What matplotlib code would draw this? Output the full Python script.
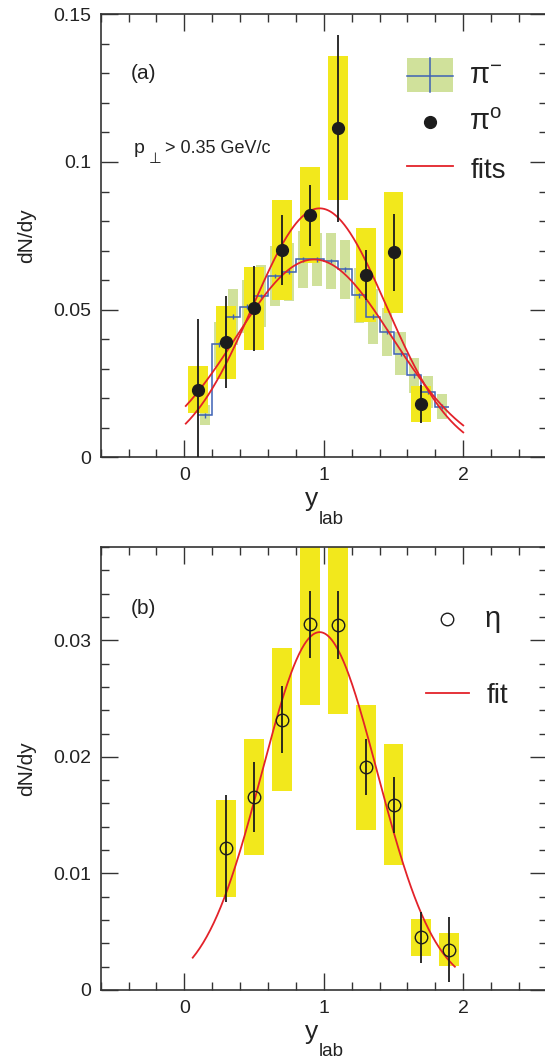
import numpy as np
import matplotlib
matplotlib.use("Agg")
import matplotlib.pyplot as plt
from matplotlib.ticker import MultipleLocator, FixedLocator, FixedFormatter
from matplotlib.patches import Rectangle

plt.rcParams["font.family"] = ["Liberation Sans", "DejaVu Sans"]

# ---- panel (a): pi- histogram ----
pim_edges = np.round(np.arange(0.1, 1.91, 0.1), 2)
pim_vals = [0.0142, 0.0382, 0.0476, 0.0510, 0.0546, 0.0614, 0.0628, 0.0670, 0.0670,
            0.0665, 0.0637, 0.0549, 0.0476, 0.0425, 0.0351, 0.0277, 0.0221, 0.0172]
pim_stat = [0.0008] * 18
pim_sys = [0.0034, 0.0075, 0.0095, 0.0090, 0.0105, 0.0103, 0.0098, 0.0096, 0.0089,
           0.0094, 0.0100, 0.0093, 0.0094, 0.0082, 0.0074, 0.0058, 0.0054, 0.0041]

# ---- panel (a): pi0 points ----
pi0_x = [0.1, 0.3, 0.5, 0.7, 0.9, 1.1, 1.3, 1.5, 1.7]
pi0_y = [0.0229, 0.0390, 0.0504, 0.0702, 0.0820, 0.1114, 0.0617, 0.0694, 0.0181]
pi0_stat = [0.0240, 0.0155, 0.0145, 0.0120, 0.0103, 0.0316, 0.0085, 0.0130, 0.0064]
pi0_sys = [0.0080, 0.0124, 0.0142, 0.0168, 0.0163, 0.0244, 0.0160, 0.0205, 0.0060]

# gaussian fit parameters (amplitude, mean, sigma, x range)
fit_pi0 = (0.0843, 0.97, 0.48, 0.01, 2.0)
fit_pim = (0.0670, 0.93, 0.56, 0.01, 2.0)

# ---- panel (b): eta ----
eta_x = [0.3, 0.5, 0.7, 0.9, 1.1, 1.3, 1.5, 1.7, 1.9]
eta_y = [0.01214, 0.01657, 0.02320, 0.03137, 0.03129, 0.01909, 0.01591, 0.00451, 0.00347]
eta_stat = [0.0046, 0.0030, 0.0029, 0.0029, 0.0029, 0.0024, 0.0024, 0.0022, 0.0028]
eta_sys = [0.0042, 0.0050, 0.0061, 0.0069, 0.0076, 0.0054, 0.0052, 0.0016, 0.0014]
fit_eta = (0.0307, 0.97, 0.415, 0.06, 1.94)

YELLOW = "#f2e81c"
GREEN = "#d0e19b"
BLUE = "#3d62b5"
RED = "#e3222a"
INK = "#1c1c1c"
AXC = "#333333"
TXT = "#222222"
BOXW = 0.143


def gauss_curve(ax, p, **kw):
    a, mu, s, x0, x1 = p
    xx = np.linspace(x0, x1, 300)
    ax.plot(xx, a * np.exp(-0.5 * ((xx - mu) / s) ** 2), **kw)


def style_axes(ax, ymax, ymajor, yminor, ylabels):
    ax.set_xlim(-0.6, 2.6)
    ax.set_ylim(0, ymax)
    ax.xaxis.set_major_locator(FixedLocator([0, 1, 2]))
    ax.xaxis.set_major_formatter(FixedFormatter(["0", "1", "2"]))
    ax.xaxis.set_minor_locator(MultipleLocator(0.2))
    ax.yaxis.set_major_locator(FixedLocator(ymajor))
    ax.yaxis.set_major_formatter(FixedFormatter(ylabels))
    ax.yaxis.set_minor_locator(MultipleLocator(yminor))
    ax.tick_params(which="both", direction="in", top=True, right=True,
                   color=AXC, width=1.0, labelsize=14, labelcolor=TXT)
    ax.tick_params(which="major", length=12, pad=7)
    ax.tick_params(which="minor", length=6)
    for sp in ax.spines.values():
        sp.set_color(AXC)
        sp.set_linewidth(1.2)
    ax.set_ylabel("dN/dy", fontsize=15, color=TXT, labelpad=12)


def xlabel_ylab(ax):
    # "y" with a lowered "lab" subscript, centred under the axis
    ax.text(0.487, -0.110, "y", transform=ax.transAxes, fontsize=19, color=TXT,
            ha="right", va="baseline")
    ax.text(0.489, -0.150, "lab", transform=ax.transAxes, fontsize=13.5, color=TXT,
            ha="left", va="baseline")


fig = plt.figure(figsize=(5.45, 10.62), dpi=100)
ax1 = fig.add_axes([0.1848, 0.5694, 0.8187, 0.4171])
ax2 = fig.add_axes([0.1848, 0.0678, 0.8187, 0.4171])

# panel (a)
centers = (pim_edges[:-1] + pim_edges[1:]) / 2
for xc, v, s in zip(centers, pim_vals, pim_sys):
    ax1.add_patch(Rectangle((xc - 0.036, v - s), 0.072, 2 * s, color=GREEN, lw=0, zorder=1))
for xc, v, s in zip(pi0_x, pi0_y, pi0_sys):
    ax1.add_patch(Rectangle((xc - BOXW / 2, v - s), BOXW, 2 * s, color=YELLOW, lw=0, zorder=2))
ax1.stairs(pim_vals, pim_edges, baseline=None, color=BLUE, lw=1.1, zorder=3)
ax1.errorbar(centers, pim_vals, yerr=pim_stat, fmt="none", ecolor=BLUE, elinewidth=1.0, zorder=3)
gauss_curve(ax1, fit_pi0, color=RED, lw=1.3, zorder=4)
gauss_curve(ax1, fit_pim, color=RED, lw=1.3, zorder=4)
ax1.errorbar(pi0_x, pi0_y, yerr=pi0_stat, fmt="o", color=INK, ms=8.5, elinewidth=1.3,
             capsize=0, zorder=5)
style_axes(ax1, 0.15, [0, 0.05, 0.1, 0.15], 0.01, ["0", "0.05", "0.1", "0.15"])
xlabel_ylab(ax1)

ax1.text(-0.385, 0.130, "(a)", fontsize=15, color=TXT, va="center")
ax1.text(-0.36, 0.1032, "p", fontsize=14, color=TXT, va="baseline")
ax1.text(-0.255, 0.0995, "\u22a5", fontsize=10.5, color=TXT, va="baseline",
         family=["DejaVu Sans"])
ax1.text(-0.14, 0.1032, "> 0.35 GeV/c", fontsize=13, color=TXT, va="baseline")

# legend (a)
ax1.add_patch(Rectangle((1.6, 0.1236), 0.323, 0.0115, color=GREEN, lw=0, zorder=6))
ax1.plot([1.6, 1.923], [0.1292, 0.1292], color=BLUE, lw=1.1, zorder=7)
ax1.plot([1.7615, 1.7615], [0.1236, 0.1351], color=BLUE, lw=1.1, zorder=7)
ax1.text(2.04, 0.1292, "$\\mathregular{\u03c0^{-}}$", fontsize=21, va="center", color=TXT)
ax1.plot([1.7615], [0.1137], "o", color=INK, ms=8.5, zorder=7)
ax1.text(2.04, 0.1137, "$\\mathregular{\u03c0^{o}}$", fontsize=21, va="center", color=TXT)
ax1.plot([1.6, 1.923], [0.0985, 0.0985], color=RED, lw=1.3, zorder=7)
ax1.text(2.055, 0.0945, "fits", fontsize=20, va="baseline", color=TXT)

# panel (b)
for xc, v, s in zip(eta_x, eta_y, eta_sys):
    ax2.add_patch(Rectangle((xc - BOXW / 2, v - s), BOXW, 2 * s, color=YELLOW, lw=0, zorder=2))
gauss_curve(ax2, fit_eta, color=RED, lw=1.3, zorder=4)
ax2.errorbar(eta_x, eta_y, yerr=eta_stat, fmt="o", mfc="none", mec=INK, ecolor=INK,
             ms=9, mew=1.0, elinewidth=1.3, capsize=0, zorder=5)
style_axes(ax2, 0.038, [0, 0.01, 0.02, 0.03], 0.002, ["0", "0.01", "0.02", "0.03"])
xlabel_ylab(ax2)

ax2.text(-0.385, 0.0327, "(b)", fontsize=15, color=TXT, va="center")
ax2.plot([1.88], [0.0318], "o", mfc="none", mec=INK, ms=9, mew=1.0)
ax2.text(2.155, 0.0318, "\u03b7", fontsize=21, va="center", color=TXT)
ax2.plot([1.735, 2.04], [0.0255, 0.0255], color=RED, lw=1.3)
ax2.text(2.17, 0.0246, "fit", fontsize=20, va="baseline", color=TXT)

fig.savefig("out.png", dpi=100)
